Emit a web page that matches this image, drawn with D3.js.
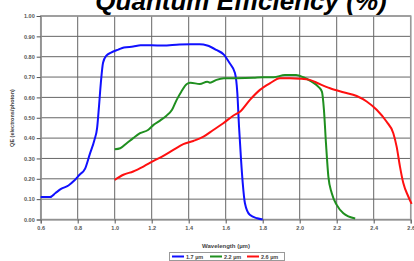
<!DOCTYPE html>
<html><head><meta charset="utf-8">
<script src="https://cdn.jsdelivr.net/npm/d3@7"></script>
<style>html,body{margin:0;padding:0;background:#fff;}svg{display:block;}</style>
</head><body><svg id="c" width="414" height="261"></svg>
<script>
const seriesNames = ["1.7 µm", "2.2 µm", "2.6 µm"];
const seriesColors = ["#1010ff", "#1f8f1f", "#ff1010"];
const xTicks = [0.6, 0.8, 1.0, 1.2, 1.4, 1.6, 1.8, 2.0, 2.2, 2.4, 2.6];
const yTicks = [0, 0.1, 0.2, 0.3, 0.4, 0.5, 0.6, 0.7, 0.8, 0.9, 1.0];

const wl17 = [0.60,0.65,0.68,0.71,0.75,0.78,0.81,0.84,0.865,0.89,0.905,0.915,0.925,0.937,0.955,0.98,1.02,1.05,1.10,1.14,1.20,1.26,1.35,1.41,1.46,1.50,1.55,1.59,1.62,1.65,1.663,1.672,1.683,1.692,1.704,1.73,1.77,1.80];
const qe17 = [0.11,0.11,0.13,0.15,0.167,0.19,0.22,0.25,0.32,0.39,0.45,0.555,0.67,0.77,0.805,0.82,0.835,0.845,0.85,0.856,0.856,0.855,0.86,0.861,0.861,0.855,0.833,0.81,0.77,0.72,0.62,0.457,0.293,0.18,0.08,0.023,0.006,0.0];

const wl22 = [1.00,1.03,1.065,1.10,1.137,1.18,1.21,1.245,1.28,1.31,1.335,1.36,1.39,1.41,1.46,1.50,1.515,1.55,1.59,1.66,1.75,1.80,1.86,1.92,1.98,2.02,2.065,2.10,2.12,2.131,2.142,2.155,2.173,2.20,2.236,2.30];
const qe22 = [0.345,0.35,0.375,0.40,0.424,0.44,0.465,0.486,0.51,0.539,0.588,0.628,0.666,0.672,0.666,0.677,0.672,0.686,0.694,0.694,0.696,0.699,0.699,0.71,0.71,0.699,0.677,0.653,0.628,0.539,0.375,0.211,0.13,0.072,0.031,0.005];

const wl26 = [1.00,1.047,1.10,1.155,1.21,1.263,1.317,1.371,1.425,1.48,1.533,1.587,1.64,1.677,1.731,1.785,1.84,1.893,1.947,2.00,2.055,2.092,2.164,2.236,2.308,2.362,2.416,2.47,2.506,2.524,2.542,2.56,2.587,2.605];
const qe26 = [0.195,0.22,0.236,0.26,0.288,0.313,0.342,0.37,0.386,0.407,0.44,0.473,0.51,0.53,0.588,0.637,0.67,0.694,0.694,0.692,0.686,0.672,0.645,0.625,0.607,0.58,0.539,0.48,0.424,0.358,0.26,0.179,0.113,0.077];

const wls = [wl17, wl22, wl26], qes = [qe17, qe22, qe26];

const svg = d3.select("#c");
const x = d3.scaleLinear().domain([0.6, 2.6]).range([40.7, 410.7]);
const y = d3.scaleLinear().domain([0, 1]).range([219.5, 16]);

// title
svg.append("text").attr("x", 241).attr("y", 10).attr("text-anchor", "middle")
  .attr("font-family", "Liberation Sans, Arial, sans-serif").attr("font-weight", "bold")
  .attr("font-style", "italic").attr("font-size", 26).attr("fill", "#000")
  .text("Quantum Efficiency (%)");

// grid
const g = svg.append("g");
g.selectAll("line.v").data(xTicks).join("line").attr("class","v")
  .attr("x1", d => x(d)).attr("x2", d => x(d)).attr("y1", y(1)).attr("y2", y(0))
  .attr("stroke", "#666").attr("stroke-width", 1);
g.selectAll("line.h").data(yTicks).join("line").attr("class","h")
  .attr("x1", x(0.6)).attr("x2", x(2.6)).attr("y1", d => y(d)).attr("y2", d => y(d))
  .attr("stroke", "#666").attr("stroke-width", 1);
g.append("rect").attr("x", x(0.6)).attr("y", y(1)).attr("width", x(2.6)-x(0.6)).attr("height", y(0)-y(1))
  .attr("fill", "none").attr("stroke", "#999").attr("stroke-width", 1.5);

// axes
const xAxis = d3.axisBottom(x).tickValues(xTicks).tickFormat(d3.format(".1f")).tickSize(4).tickPadding(3);
const yAxis = d3.axisLeft(y).tickValues(yTicks).tickFormat(d3.format(".2f")).tickSize(4).tickPadding(2);
const ax = svg.append("g").attr("transform", `translate(0,${y(0)})`).call(xAxis);
const ay = svg.append("g").attr("transform", `translate(${x(0.6)},0)`).call(yAxis);
[ax, ay].forEach(a => {
  a.select(".domain").attr("stroke", "#888");
  a.selectAll(".tick line").attr("stroke", "#555");
  a.selectAll("text").attr("font-family", "Liberation Sans, Arial, sans-serif")
    .attr("font-weight", "bold").attr("font-size", 5.5).attr("fill", "#555");
});

// lines
const line = d3.line().x(d => x(d[0])).y(d => y(d[1])).curve(d3.curveMonotoneX);
seriesNames.forEach((n, i) => {
  const pts = wls[i].map((w, j) => [w, qes[i][j]]);
  svg.append("path").datum(pts).attr("d", line).attr("fill", "none")
    .attr("stroke", seriesColors[i]).attr("stroke-width", 2).attr("stroke-linejoin", "round");
});

// axis titles
svg.append("text").attr("x", 226).attr("y", 248).attr("text-anchor", "middle")
  .attr("font-family", "Liberation Sans, Arial, sans-serif").attr("font-weight", "bold")
  .attr("font-size", 6).attr("fill", "#444").text("Wavelength (µm)");
svg.append("text").attr("transform", "translate(14,118) rotate(-90)").attr("text-anchor", "middle")
  .attr("font-family", "Liberation Sans, Arial, sans-serif").attr("font-weight", "bold")
  .attr("font-size", 5.5).attr("fill", "#444").text("QE (electrons/photon)");

// legend
const lg = svg.append("g");
lg.append("rect").attr("x", 169.5).attr("y", 252.5).attr("width", 115).attr("height", 8)
  .attr("fill", "#fff").attr("stroke", "#999").attr("stroke-width", 1);
const lx = [172, 210, 247];
seriesNames.forEach((n, i) => {
  lg.append("line").attr("x1", lx[i]).attr("x2", lx[i] + 12).attr("y1", 256.5).attr("y2", 256.5)
    .attr("stroke", seriesColors[i]).attr("stroke-width", 2);
  lg.append("text").attr("x", lx[i] + 14).attr("y", 258.5)
    .attr("font-family", "Liberation Sans, Arial, sans-serif").attr("font-weight", "bold")
    .attr("font-size", 5.5).attr("fill", "#444").text(n);
});
</script></body></html>
